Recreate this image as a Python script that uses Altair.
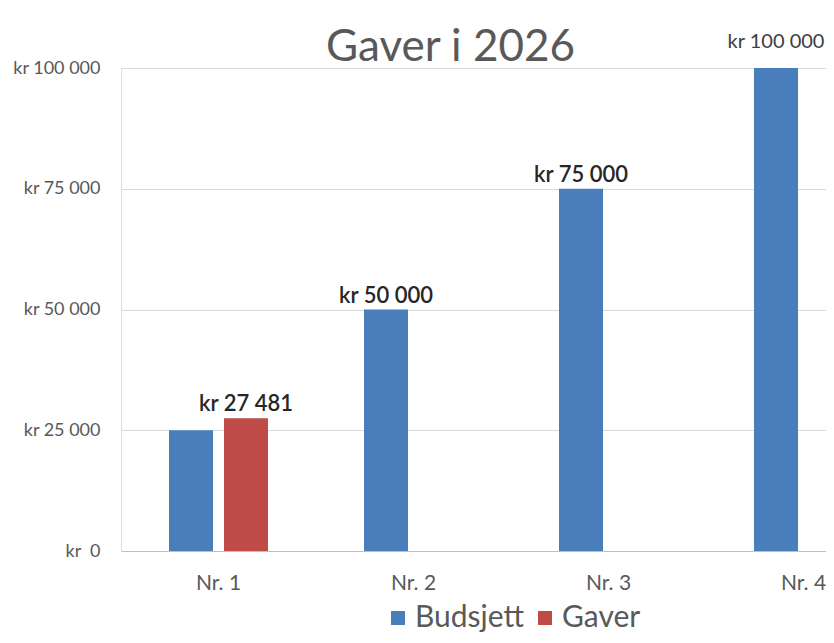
import altair as alt
import pandas as pd

categories = ["Nr. 1", "Nr. 2", "Nr. 3", "Nr. 4"]
budsjett = [25000, 50000, 75000, 100000]
gaver = [27481, None, None, None]
series_names = ["Budsjett", "Gaver"]
series_colors = ["#4A7EBB", "#BE4B48"]
y_ticks = [0, 25000, 50000, 75000, 100000]

rows = []
for c, b, g in zip(categories, budsjett, gaver):
    rows.append({"kategori": c, "serie": "Budsjett", "verdi": b})
    if g is not None:
        rows.append({"kategori": c, "serie": "Gaver", "verdi": g})
df = pd.DataFrame(rows)

FONT = "Lato"

x_enc = alt.X(
    "kategori:N",
    sort=categories,
    scale=alt.Scale(range=[0, 780], paddingInner=0, paddingOuter=0),
    axis=alt.Axis(
        title=None, labelAngle=0, ticks=False, domainColor="#BFBFBF", domainWidth=1,
        labelFontSize=21, labelColor="#595959", labelFont=FONT, labelPadding=21,
        labelBaseline="top",
    ),
)
xoff = alt.XOffset(
    "serie:N",
    scale=alt.Scale(domain=series_names, paddingInner=0.2, paddingOuter=0.873),
)
y_enc = alt.Y(
    "verdi:Q",
    scale=alt.Scale(domain=[0, 100000], nice=False),
    axis=alt.Axis(
        title=None, values=y_ticks, domain=False, ticks=False, gridColor="#D9D9D9",
        labelFontSize=18, labelColor="#595959", labelFont=FONT, labelPadding=21,
        labelExpr="datum.value == 0 ? 'kr\u00a0\u00a00' : 'kr ' + replace(format(datum.value, ','), ',', ' ')",
    ),
)

base = alt.Chart(df)

bars = base.mark_bar().encode(
    x=x_enc,
    xOffset=xoff,
    y=y_enc,
    color=alt.Color(
        "serie:N",
        scale=alt.Scale(domain=series_names, range=series_colors),
        legend=alt.Legend(
            title=None, orient="none", direction="horizontal", legendX=262, legendY=535,
            symbolType="square", symbolSize=196, symbolStrokeWidth=0,
            labelFontSize=30, labelFont=FONT, labelColor="#595959",
            labelOffset=2, columnPadding=5, padding=0,
        ),
    ),
)

lbl_calc = "'kr ' + replace(format(datum.verdi, ','), ',', ' ')"
labels = base.transform_filter(
    "!(datum.serie == 'Budsjett' && datum.kategori == 'Nr. 1') && datum.verdi < 100000"
).transform_calculate(tekst=lbl_calc).mark_text(
    baseline="alphabetic", dy=-7, fontSize=22, font=FONT, color="#262626", fontWeight=600
).encode(x=x_enc, xOffset=xoff, y=y_enc, text="tekst:N")

labels_top = base.transform_filter(
    "datum.verdi >= 100000"
).transform_calculate(tekst=lbl_calc).mark_text(
    baseline="alphabetic", dy=-20, fontSize=20, font=FONT, color="#404040"
).encode(x=x_enc, xOffset=xoff, y=y_enc, text="tekst:N")

chart = alt.layer(bars, labels, labels_top).properties(
    width=705,
    height=483,
    title=alt.TitleParams(
        "Gaver i 2026", fontSize=44, font=FONT, color="#595959", fontWeight="normal",
        anchor="start", frame="group", dx=205, dy=78, offset=5, baseline="alphabetic",
    ),
    autosize=alt.AutoSizeParams(type="none"),
    padding={"left": 113, "top": 60, "right": 0, "bottom": 84},
).configure_view(stroke=None).configure(background="white")

chart.save("out.html", embed_options={"renderer": "svg", "actions": False})
